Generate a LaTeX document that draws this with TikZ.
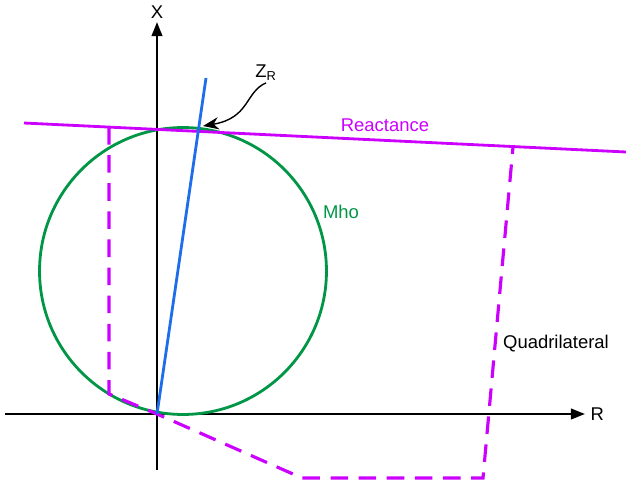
\documentclass[tikz,border=0pt]{standalone}
\usepackage{fontspec}
\setmainfont{Liberation Sans}
\usetikzlibrary{arrows.meta, positioning}
\definecolor{reactcol}{RGB}{204,0,255}
\definecolor{mhocol}{RGB}{0,150,70}
\definecolor{zcol}{RGB}{30,110,235}

\begin{document}
\begin{tikzpicture}[
    x=0.02cm, y=-0.02cm,
    axis/.style={-{Triangle[length=8pt,width=6pt]}, line width=1.2pt},
    mho/.style={draw=mhocol, line width=1.6pt},
    reach/.style={draw=zcol, line width=1.6pt},
    react/.style={draw=reactcol, line width=1.6pt},
    quad/.style={draw=reactcol, line width=1.8pt, dash pattern=on 10pt off 6pt},
    lbl/.style={font=\fontsize{10.5}{12}\selectfont, inner sep=1pt},
    pointer/.style={-{Stealth[length=9pt,width=7pt]}, line width=0.8pt}
]
\useasboundingbox (0,0) rectangle (626,480);
% axes
\coordinate (o) at (157,414);
\coordinate (rl) at (5,414);
\coordinate (rr) at (585,414);
\coordinate (xb) at (157,470);
\coordinate (xt) at (157,22);
\draw[axis] (rl) -- (rr);
\draw[axis] (xb) -- (xt);
\node[lbl, right=2pt of rr] (rlab) {R};
\node[lbl, above=1pt of xt] (xlab) {X};
% mho circle
\coordinate (mc) at (183,271);
\draw[mho] (mc) circle[radius=2.87cm];
\node[lbl, text=mhocol] (mholab) at (341,212) {Mho};
% reactance line
\coordinate (ra) at (24,123);
\coordinate (rb) at (626,152);
\draw[react] (ra) -- (rb);
\node[lbl, text=reactcol] (reactlab) at (385,125) {Reactance};
% quadrilateral
\coordinate (q1) at (109,127);
\coordinate (q2) at (109,394);
\coordinate (q3) at (302,478);
\coordinate (q4) at (483,478);
\coordinate (q5) at (513,147);
\draw[quad] (q1) -- (q2) -- (o) -- (q3) -- (q4) -- (q5);
\node[lbl] (quadlab) at (556,344) {Quadrilateral};
% line impedance
\coordinate (zr) at (206,78);
\draw[reach] (o) -- (zr);
\node[lbl] (zlab) at (266,73) {Z\textsubscript{R}};
\coordinate (zt) at (203,126);
\draw[pointer] (zlab.south) .. controls (245,92) and (250,118) .. (zt);
\end{tikzpicture}
\end{document}
